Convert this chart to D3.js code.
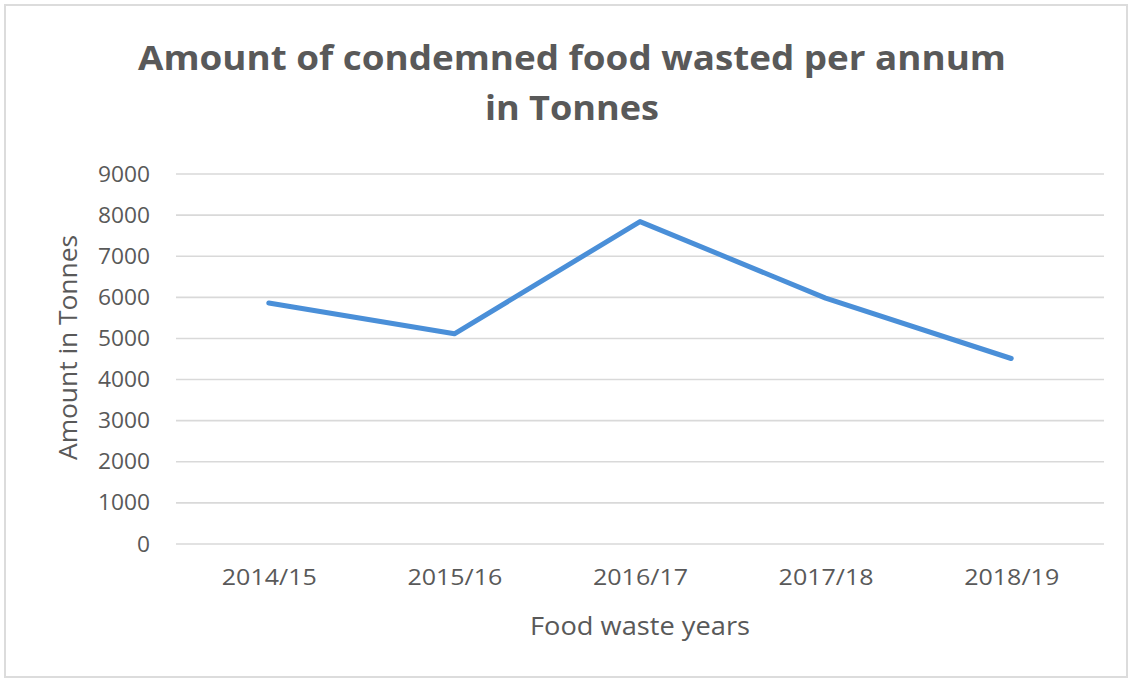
<!DOCTYPE html>
<html>
<head>
<meta charset="utf-8">
<script src="https://cdn.jsdelivr.net/npm/d3@7"></script>
<style>
  html, body { margin: 0; padding: 0; background: #ffffff; }
  svg { display: block; }
</style>
</head>
<body>
<svg id="chart" width="1132" height="682"></svg>
<script>
// Condemned food waste, tonnes per financial year
const years = ["2014/15", "2015/16", "2016/17", "2017/18", "2018/19"];
const tonnes = [5850, 5100, 7830, 5970, 4500];
const yTicks = [0, 1000, 2000, 3000, 4000, 5000, 6000, 7000, 8000, 9000];
const titleLines = ["Amount of condemned food wasted per annum", "in Tonnes"];
const xTitle = "Food waste years";
const yTitle = "Amount in Tonnes";

const W = 1132, H = 682;
const margin = { left: 176, right: 28, top: 173.5, bottom: 138.5 };
const textColor = "#595959";
const font = "'Open Sans', 'Noto Sans', sans-serif";

const svg = d3.select("#chart");

// chart frame
svg.append("rect")
  .attr("x", 5).attr("y", 5)
  .attr("width", W - 10).attr("height", H - 10)
  .attr("fill", "#ffffff")
  .attr("stroke", "#dcdcdc")
  .attr("stroke-width", 2);

const x = d3.scalePoint()
  .domain(years)
  .range([margin.left, W - margin.right])
  .padding(0.5);

const y = d3.scaleLinear()
  .domain([0, 9000])
  .range([H - margin.bottom, margin.top]);

// horizontal gridlines with value labels
const yAxis = d3.axisLeft(y)
  .tickValues(yTicks)
  .tickSize(-(W - margin.right - margin.left))
  .tickPadding(26)
  .tickFormat(d3.format("d"));

const gy = svg.append("g")
  .attr("transform", `translate(${margin.left},0)`)
  .call(yAxis);
gy.select(".domain").remove();
gy.selectAll(".tick line")
  .attr("stroke", "#d9d9d9")
  .attr("stroke-width", 1.6);
gy.selectAll(".tick text")
  .attr("fill", textColor)
  .attr("dy", "0.36em")
  .attr("textLength", d => 13 * String(d).length)
  .attr("lengthAdjust", "spacingAndGlyphs")
  .style("font-family", font)
  .style("font-size", "21px");

// category axis
const xAxis = d3.axisBottom(x).tickSize(0).tickPadding(26);
const gx = svg.append("g")
  .attr("transform", `translate(0,${H - margin.bottom})`)
  .call(xAxis);
gx.select(".domain").remove();
gx.selectAll(".tick text")
  .attr("fill", textColor)
  .attr("textLength", 95)
  .attr("lengthAdjust", "spacingAndGlyphs")
  .style("font-family", font)
  .style("font-size", "22px");

// series line
const line = d3.line()
  .x((d, i) => x(years[i]))
  .y(d => y(d));

svg.append("path")
  .datum(tonnes)
  .attr("d", line)
  .attr("fill", "none")
  .attr("stroke", "#4a8fd8")
  .attr("stroke-width", 5)
  .attr("stroke-linejoin", "round")
  .attr("stroke-linecap", "round");

// titles
const title = svg.append("text")
  .attr("text-anchor", "middle")
  .attr("fill", textColor)
  .style("font-family", font)
  .style("font-weight", "bold")
  .style("font-size", "34px");
title.append("tspan")
  .attr("x", 572).attr("y", 70)
  .attr("textLength", 868)
  .attr("lengthAdjust", "spacingAndGlyphs")
  .text(titleLines[0]);
title.append("tspan")
  .attr("x", 572).attr("y", 120)
  .attr("textLength", 174)
  .attr("lengthAdjust", "spacingAndGlyphs")
  .text(titleLines[1]);

svg.append("text")
  .attr("x", 640).attr("y", 635)
  .attr("text-anchor", "middle")
  .attr("fill", textColor)
  .attr("textLength", 220)
  .attr("lengthAdjust", "spacingAndGlyphs")
  .style("font-family", font)
  .style("font-size", "25px")
  .text(xTitle);

svg.append("text")
  .attr("transform", "translate(77,347.5) rotate(-90)")
  .attr("text-anchor", "middle")
  .attr("fill", textColor)
  .attr("textLength", 225)
  .attr("lengthAdjust", "spacingAndGlyphs")
  .style("font-family", font)
  .style("font-size", "25px")
  .text(yTitle);
</script>
</body>
</html>
